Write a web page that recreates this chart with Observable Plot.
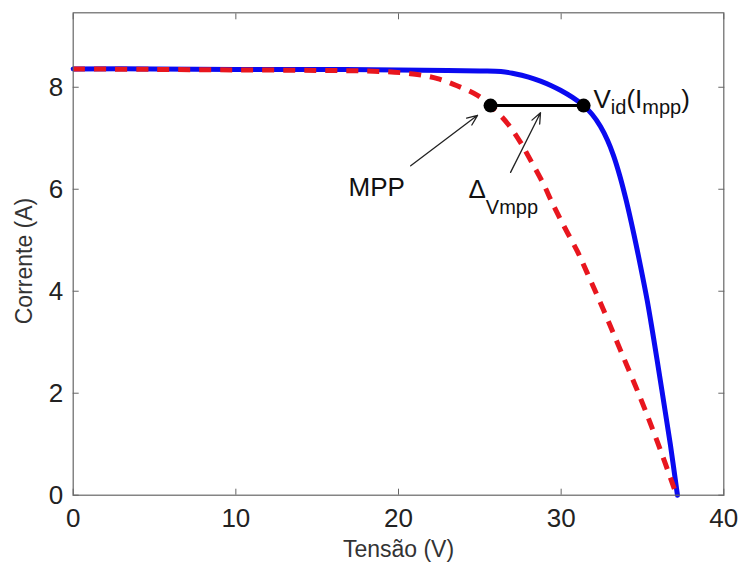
<!DOCTYPE html>
<html><head><meta charset="utf-8">
<script src="https://cdn.jsdelivr.net/npm/d3@7"></script>
<script src="https://cdn.jsdelivr.net/npm/@observablehq/plot@0.6"></script>
<style>body{margin:0;background:#fff;} #chart{width:740px;height:570px;}</style>
</head><body><div id="chart"></div>
<script>
// Tick values
const xTicks = [0, 10, 20, 30, 40];
const yTicks = [0, 2, 4, 6, 8];

// Ideal I-V curve (blue, solid)
const vBlue = [0, 5, 10, 15, 20, 23, 25, 26.3, 27.07, 28.0, 28.73, 29.4, 29.96, 30.7, 31.38, 31.9, 32.42, 32.85, 33.22, 33.6, 34.0, 34.47, 34.88, 35.29, 35.6, 35.91, 36.31, 36.72, 37.15];
const iBlue = [8.36, 8.36, 8.35, 8.35, 8.34, 8.33, 8.32, 8.31, 8.27, 8.20, 8.12, 8.03, 7.94, 7.80, 7.64, 7.47, 7.23, 6.96, 6.66, 6.27, 5.78, 5.12, 4.49, 3.82, 3.24, 2.63, 1.82, 0.98, 0.0];

// Real I-V curve (red, dashed)
const vRed = [0, 5, 10, 15, 18.9, 20.9, 22.4, 23.6, 24.86, 25.66, 26.7, 27.5, 28.1, 28.9, 29.5, 30.2, 31.0, 31.6, 32.62, 33.65, 34.88, 35.9, 37.1];
const iRed = [8.36, 8.35, 8.34, 8.33, 8.31, 8.26, 8.17, 8.03, 7.84, 7.64, 7.29, 6.92, 6.58, 6.11, 5.70, 5.26, 4.78, 4.36, 3.62, 2.84, 1.90, 1.06, 0.0];

// Marked points: MPP and V_id(I_mpp)
const ptV = [25.66, 31.38];
const ptI = [7.64, 7.64];

// Annotation arrows
const arrX1 = [20.75, 26.89];
const arrY1 = [6.46, 6.33];
const arrX2 = [24.86, 28.73];
const arrY2 = [7.45, 7.50];

// Annotation labels
const annoText = ["MPP", "Δ_{Vmpp}", "V_{id}(I_{mpp})"];
const annoX = [16.93, 24.30, 31.99];
const annoY = [6.04, 6.00, 7.76];

const blue = vBlue.map((v, i) => ({v, c: iBlue[i]}));
const red = vRed.map((v, i) => ({v, c: iRed[i]}));
const pts = ptV.map((v, i) => ({v, c: ptI[i]}));
const arrows = arrX1.map((x1, i) => ({x1, y1: arrY1[i], x2: arrX2[i], y2: arrY2[i]}));
const annos = annoText.map((t, i) => ({t, x: annoX[i], y: annoY[i]}));

const frameColor = "#666";
const plot = Plot.plot({
  width: 740, height: 570,
  marginLeft: 72.7, marginRight: 16.7, marginTop: 12.3, marginBottom: 75.3,
  style: {fontFamily: "'Liberation Sans', Arial, sans-serif", background: "#fff", color: "#222"},
  x: {domain: [0, 40]},
  y: {domain: [0, 9.46]},
  marks: [
    // tick labels
    Plot.axisX(xTicks, {anchor: "bottom", tickSize: 0, tickPadding: 13, fontSize: 26, label: null, tickFormat: d => String(d)}),
    Plot.axisY(yTicks, {anchor: "left", tickSize: 0, tickPadding: 10, fontSize: 26, label: null, tickFormat: d => String(d)}),
    // inward ticks on all four sides
    Plot.axisX(xTicks, {anchor: "bottom", tickSize: 6, dy: -6, tickFormat: () => "", label: null, stroke: frameColor}),
    Plot.axisX(xTicks, {anchor: "top", tickSize: 6, dy: 6, tickFormat: () => "", label: null, stroke: frameColor}),
    Plot.axisY(yTicks, {anchor: "left", tickSize: 6, dx: 6, tickFormat: () => "", label: null, stroke: frameColor}),
    Plot.axisY(yTicks, {anchor: "right", tickSize: 6, dx: -6, tickFormat: () => "", label: null, stroke: frameColor}),
    // axis titles
    Plot.text(["Tensão (V)"], {text: d => d, frameAnchor: "bottom", textAnchor: "middle", lineAnchor: "middle", dy: 54, fontSize: 23, fill: "#333"}),
    Plot.text(["Corrente (A)"], {text: d => d, frameAnchor: "left", textAnchor: "middle", lineAnchor: "middle", rotate: -90, dx: -49, dy: 7, fontSize: 23, fill: "#333"}),
    // curves
    Plot.line(blue, {x: "v", y: "c", stroke: "#0a0af0", strokeWidth: 5, curve: "catmull-rom"}),
    Plot.line(red, {x: "v", y: "c", stroke: "#e8161e", strokeWidth: 5, strokeDasharray: "12,9", strokeLinecap: "butt", curve: "catmull-rom"}),
    // MPP link + points
    Plot.line(pts, {x: "v", y: "c", stroke: "#000", strokeWidth: 3}),
    Plot.dot(pts, {x: "v", y: "c", r: 7, fill: "#000", stroke: "none"}),
    // arrows
    Plot.arrow(arrows, {x1: "x1", y1: "y1", x2: "x2", y2: "y2", stroke: "#222", strokeWidth: 1.3, headLength: 13, headAngle: 45}),
    // annotation text
    Plot.text(annos, {x: "x", y: "y", text: "t", textAnchor: "start", lineAnchor: "middle", fontSize: 26, fill: "#111"}),
    Plot.frame({stroke: frameColor, strokeWidth: 1.2})
  ]
});

// subscripts
const subShift = {"Δ_{Vmpp}": 16, "V_{id}(I_{mpp})": 6};
d3.select(plot).selectAll("text").filter(function() { return this.textContent.includes("_{"); }).each(function() {
  const t = d3.select(this);
  const s = this.textContent;
  const shift = subShift[s] || 6;
  const parts = s.split(/(_\{[^}]*\})/).filter(p => p);
  t.selectAll("*").remove();
  t.text(null);
  let down = false;
  for (const p of parts) {
    if (p.startsWith("_{")) {
      t.append("tspan").attr("font-size", "20px").attr("dy", shift).text(p.slice(2, -1));
      down = true;
    } else {
      const ts = t.append("tspan").text(p);
      if (down) { ts.attr("dy", -shift); down = false; }
    }
  }
});

document.getElementById("chart").appendChild(plot);
</script>
</body></html>
